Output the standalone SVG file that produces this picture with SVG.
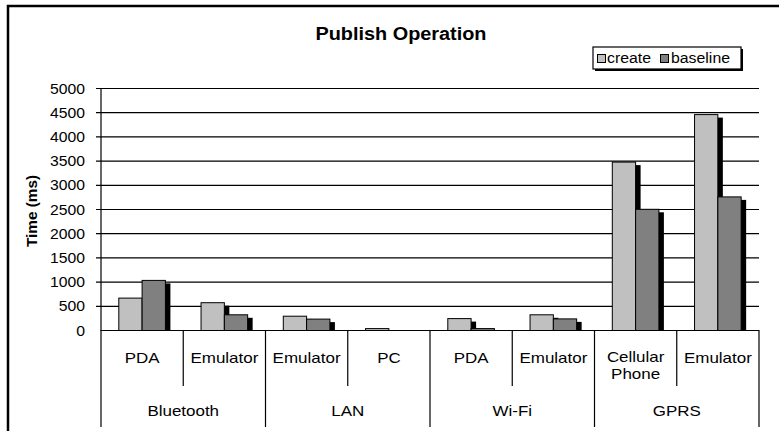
<svg xmlns="http://www.w3.org/2000/svg" width="779" height="431" viewBox="0 0 779 431">
  <style>
    text { font-family: "Liberation Sans", Arial, sans-serif; fill: #000; }
    .grid { stroke: #000; stroke-width: 1.2; }
    .tick { stroke: #000; stroke-width: 1.2; }
    .ylab { font-size: 14px; text-anchor: end; }
    .cat { font-size: 15px; text-anchor: middle; }
    .create { fill: #C0C0C0; stroke: #000; stroke-width: 1; }
    .baseline { fill: #808080; stroke: #000; stroke-width: 1; }
    .shadow { fill: #000; }
    .leg { font-size: 14px; }
  </style>
  <defs>
    <clipPath id="plotClip">
      <rect x="101" y="80" width="660" height="250.5"/>
    </clipPath>
  </defs>

  <rect x="0" y="0" width="779" height="431" fill="#fff"/>
  <!-- chart frame (right and bottom edges fall outside the canvas) -->
  <rect x="8" y="6" width="800" height="460" fill="none" stroke="#000" stroke-width="2.5"/>

  <!-- title -->
  <text x="401" y="40" font-size="18" font-weight="bold" text-anchor="middle" textLength="171" lengthAdjust="spacingAndGlyphs">Publish Operation</text>

  <!-- legend -->
  <g id="legend">
    <rect x="595" y="49" width="148" height="22" fill="#000"/>
    <rect x="593" y="47" width="148" height="22" fill="#fff" stroke="#000" stroke-width="1.2"/>
    <rect x="597.5" y="54.5" width="8" height="8" class="create"/>
    <text x="607" y="63" class="leg" textLength="44" lengthAdjust="spacingAndGlyphs">create</text>
    <rect x="660.5" y="54.5" width="8" height="8" class="baseline"/>
    <text x="671" y="63" class="leg" textLength="59" lengthAdjust="spacingAndGlyphs">baseline</text>
  </g>

  <!-- gridlines and value axis -->
  <g id="grid">
    <line class="grid" x1="96" y1="88.5" x2="759" y2="88.5"/>
    <line class="grid" x1="96" y1="112.7" x2="759" y2="112.7"/>
    <line class="grid" x1="96" y1="136.9" x2="759" y2="136.9"/>
    <line class="grid" x1="96" y1="161.1" x2="759" y2="161.1"/>
    <line class="grid" x1="96" y1="185.3" x2="759" y2="185.3"/>
    <line class="grid" x1="96" y1="209.5" x2="759" y2="209.5"/>
    <line class="grid" x1="96" y1="233.7" x2="759" y2="233.7"/>
    <line class="grid" x1="96" y1="257.9" x2="759" y2="257.9"/>
    <line class="grid" x1="96" y1="282.1" x2="759" y2="282.1"/>
    <line class="grid" x1="96" y1="306.3" x2="759" y2="306.3"/>
    <line class="grid" x1="101" y1="88" x2="101" y2="331"/>
  </g>
  <g id="ylabels">
    <text class="ylab" x="85" y="93.5" textLength="35" lengthAdjust="spacingAndGlyphs">5000</text>
    <text class="ylab" x="85" y="117.7" textLength="35" lengthAdjust="spacingAndGlyphs">4500</text>
    <text class="ylab" x="85" y="141.9" textLength="35" lengthAdjust="spacingAndGlyphs">4000</text>
    <text class="ylab" x="85" y="166.1" textLength="35" lengthAdjust="spacingAndGlyphs">3500</text>
    <text class="ylab" x="85" y="190.3" textLength="35" lengthAdjust="spacingAndGlyphs">3000</text>
    <text class="ylab" x="85" y="214.5" textLength="35" lengthAdjust="spacingAndGlyphs">2500</text>
    <text class="ylab" x="85" y="238.7" textLength="35" lengthAdjust="spacingAndGlyphs">2000</text>
    <text class="ylab" x="85" y="262.9" textLength="35" lengthAdjust="spacingAndGlyphs">1500</text>
    <text class="ylab" x="85" y="287.1" textLength="35" lengthAdjust="spacingAndGlyphs">1000</text>
    <text class="ylab" x="85" y="311.3" textLength="26.3" lengthAdjust="spacingAndGlyphs">500</text>
    <text class="ylab" x="85" y="335.5" textLength="8.8" lengthAdjust="spacingAndGlyphs">0</text>
  </g>
  <text transform="translate(37,211) rotate(-90)" font-size="15" font-weight="bold" text-anchor="middle" textLength="72" lengthAdjust="spacingAndGlyphs">Time (ms)</text>

  <!-- bars: shadows first, then create / baseline -->
  <g id="bars">
    <g clip-path="url(#plotClip)">
      <!-- Bluetooth PDA -->
      <rect class="shadow" x="123.8" y="301.1" width="23.3" height="40"/>
      <rect class="shadow" x="147.1" y="283.4" width="23.3" height="60"/>
      <!-- Bluetooth Emulator -->
      <rect class="shadow" x="206.05" y="305.7" width="23.3" height="40"/>
      <rect class="shadow" x="229.35" y="317.8" width="23.3" height="20"/>
      <!-- LAN Emulator -->
      <rect class="shadow" x="288.3" y="319.2" width="23.3" height="20"/>
      <rect class="shadow" x="311.6" y="322.1" width="23.3" height="20"/>
      <!-- LAN PC -->
      <rect class="shadow" x="370.55" y="331.6" width="23.3" height="10"/>
      <!-- Wi-Fi PDA -->
      <rect class="shadow" x="452.8" y="321.6" width="23.3" height="20"/>
      <rect class="shadow" x="476.1" y="331.6" width="23.3" height="10"/>
      <!-- Wi-Fi Emulator -->
      <rect class="shadow" x="535.05" y="317.8" width="23.3" height="20"/>
      <rect class="shadow" x="558.35" y="321.9" width="23.3" height="20"/>
      <!-- GPRS Cellular Phone -->
      <rect class="shadow" x="617.3" y="165.1" width="23.3" height="180"/>
      <rect class="shadow" x="640.6" y="212.3" width="23.3" height="130"/>
      <!-- GPRS Emulator -->
      <rect class="shadow" x="699.55" y="117.6" width="23.3" height="220"/>
      <rect class="shadow" x="722.85" y="199.9" width="23.3" height="140"/>
    </g>

    <rect class="create" x="118.8" y="298.1" width="23.3" height="32.4"/>
    <rect class="baseline" x="142.1" y="280.4" width="23.3" height="50.1"/>

    <rect class="create" x="201.05" y="302.7" width="23.3" height="27.8"/>
    <rect class="baseline" x="224.35" y="314.8" width="23.3" height="15.7"/>

    <rect class="create" x="283.3" y="316.2" width="23.3" height="14.3"/>
    <rect class="baseline" x="306.6" y="319.1" width="23.3" height="11.4"/>

    <rect class="create" x="365.55" y="328.6" width="23.3" height="1.9"/>

    <rect class="create" x="447.8" y="318.6" width="23.3" height="11.9"/>
    <rect class="baseline" x="471.1" y="328.6" width="23.3" height="1.9"/>

    <rect class="create" x="530.05" y="314.8" width="23.3" height="15.7"/>
    <rect class="baseline" x="553.35" y="318.9" width="23.3" height="11.6"/>

    <rect class="create" x="612.3" y="162.1" width="23.3" height="168.4"/>
    <rect class="baseline" x="635.6" y="209.3" width="23.3" height="121.2"/>

    <rect class="create" x="694.55" y="114.6" width="23.3" height="215.9"/>
    <rect class="baseline" x="717.85" y="196.9" width="23.3" height="133.6"/>
  </g>

  <!-- category axis with two-level labels -->
  <g id="xaxis">
    <line class="grid" x1="101" y1="330.5" x2="759" y2="330.5"/>
    <line class="tick" x1="101" y1="330" x2="101" y2="427"/>
    <line class="tick" x1="183.25" y1="330" x2="183.25" y2="386"/>
    <line class="tick" x1="265.5" y1="330" x2="265.5" y2="427"/>
    <line class="tick" x1="347.75" y1="330" x2="347.75" y2="386"/>
    <line class="tick" x1="430" y1="330" x2="430" y2="427"/>
    <line class="tick" x1="512.25" y1="330" x2="512.25" y2="386"/>
    <line class="tick" x1="594.5" y1="330" x2="594.5" y2="427"/>
    <line class="tick" x1="676.75" y1="330" x2="676.75" y2="386"/>
    <line class="tick" x1="759" y1="330" x2="759" y2="427"/>

    <text class="cat" x="142.1" y="363" textLength="34.8" lengthAdjust="spacingAndGlyphs">PDA</text>
    <text class="cat" x="224.4" y="363" textLength="68" lengthAdjust="spacingAndGlyphs">Emulator</text>
    <text class="cat" x="306.6" y="363" textLength="68" lengthAdjust="spacingAndGlyphs">Emulator</text>
    <text class="cat" x="388.9" y="363" textLength="23.5" lengthAdjust="spacingAndGlyphs">PC</text>
    <text class="cat" x="471.1" y="363" textLength="34.8" lengthAdjust="spacingAndGlyphs">PDA</text>
    <text class="cat" x="553.4" y="363" textLength="68" lengthAdjust="spacingAndGlyphs">Emulator</text>
    <text class="cat" x="635.6" y="362" textLength="57.4" lengthAdjust="spacingAndGlyphs">Cellular</text>
    <text class="cat" x="635.6" y="379" textLength="49" lengthAdjust="spacingAndGlyphs">Phone</text>
    <text class="cat" x="717.9" y="363" textLength="68" lengthAdjust="spacingAndGlyphs">Emulator</text>

    <text class="cat" x="183.25" y="416" textLength="71.6" lengthAdjust="spacingAndGlyphs">Bluetooth</text>
    <text class="cat" x="347.75" y="416" textLength="33" lengthAdjust="spacingAndGlyphs">LAN</text>
    <text class="cat" x="512.25" y="416" textLength="39.5" lengthAdjust="spacingAndGlyphs">Wi-Fi</text>
    <text class="cat" x="676.75" y="416" textLength="48" lengthAdjust="spacingAndGlyphs">GPRS</text>
  </g>
</svg>
